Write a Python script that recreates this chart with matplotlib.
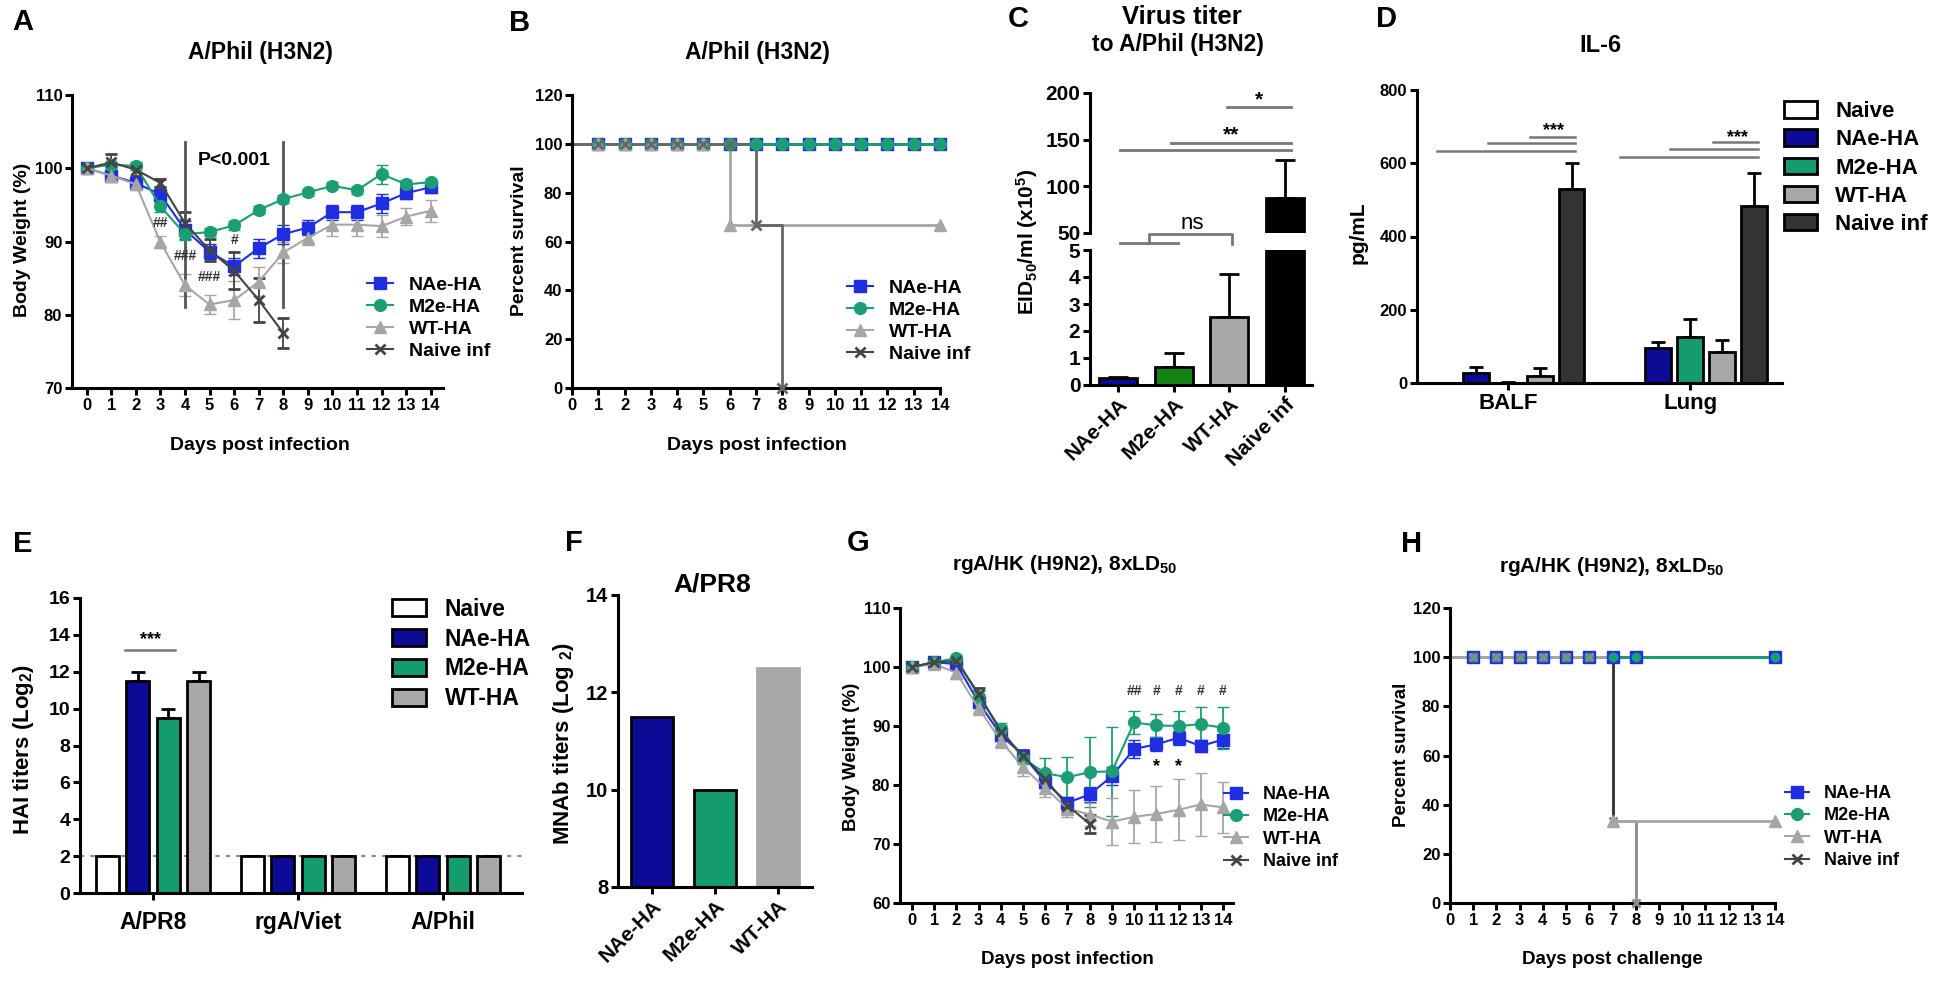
import matplotlib
matplotlib.use("Agg")
import matplotlib.pyplot as plt
from matplotlib.patches import Patch
from matplotlib.lines import Line2D

W, H = 1950, 994

plt.rcParams["font.family"] = ["Liberation Sans", "DejaVu Sans"]
plt.rcParams["font.weight"] = "bold"
plt.rcParams["mathtext.fontset"] = "custom"
plt.rcParams["mathtext.rm"] = "Liberation Sans:bold"
plt.rcParams["mathtext.it"] = "Liberation Sans:bold"
plt.rcParams["mathtext.bf"] = "Liberation Sans:bold"
plt.rcParams["mathtext.default"] = "rm"

# ---------------- data ----------------
DAYS = [0, 1, 2, 3, 4, 5, 6, 7, 8, 9, 10, 11, 12, 13, 14]
GROUPS = ["NAe-HA", "M2e-HA", "WT-HA", "Naive inf"]

# A: body weight, A/Phil (H3N2)
A_NAE = [100, 99.0, 98.0, 96.4, 91.6, 88.6, 86.6, 89.1, 91.0, 91.9, 94.0, 94.0, 95.2, 96.6, 97.4]
A_NAE_ERR = [0.4, 0.8, 0.8, 1.0, 1.2, 1.0, 1.2, 1.3, 1.3, 1.0, 1.0, 1.0, 1.3, 0.8, 0.8]
A_M2E = [100, 100.5, 100.3, 94.8, 91.0, 91.3, 92.2, 94.3, 95.8, 96.7, 97.6, 97.0, 99.2, 97.8, 98.1]
A_M2E_ERR = [0.3, 0.5, 0.5, 0.8, 0.8, 0.6, 0.6, 0.5, 0.5, 0.5, 0.5, 0.5, 1.3, 0.6, 0.5]
A_WT = [100, 99.0, 97.8, 89.9, 84.0, 81.4, 82.0, 84.5, 88.5, 90.5, 92.3, 92.3, 92.1, 93.4, 94.2]
A_WT_ERR = [0.3, 0.8, 0.8, 0.8, 1.5, 1.3, 2.6, 2.0, 1.5, 1.0, 1.5, 1.5, 1.5, 1.2, 1.5]
A_NAIVE = [100, 100.8, 99.8, 98.0, 92.5, 88.8, 86.0, 82.0, 77.5]
A_NAIVE_ERR = [0.3, 1.2, 0.8, 0.5, 1.5, 1.5, 2.5, 3.0, 2.1]

# B: survival, A/Phil (H3N2)
B_NAE_DAYS = [0, 1, 2, 3, 4, 5, 6, 7, 8, 9, 10, 11, 12, 13, 14]
B_NAE = [100, 100, 100, 100, 100, 100, 100, 100, 100, 100, 100, 100, 100, 100, 100]
B_M2E = [100, 100, 100, 100, 100, 100, 100, 100, 100, 100, 100, 100, 100, 100, 100]
B_WT_DAYS = [0, 1, 2, 3, 4, 5, 6, 14]
B_WT = [100, 100, 100, 100, 100, 100, 66.7, 66.7]
B_NAIVE_DAYS = [0, 1, 2, 3, 4, 5, 6, 7, 8]
B_NAIVE = [100, 100, 100, 100, 100, 100, 100, 66.7, 0]

# C: lung virus titer
C_TITER = [0.25, 0.65, 2.5, 87.5]
C_TITER_ERR = [0.05, 0.52, 1.6, 41.0]

# D: IL-6
D_SITES = ["BALF", "Lung"]
D_GROUPS = ["Naive", "NAe-HA", "M2e-HA", "WT-HA", "Naive inf"]
D_BALF = [0, 27, 1, 19, 530]
D_BALF_ERR = [0, 17, 3, 22, 70]
D_LUNG = [0, 95, 126, 85, 483]
D_LUNG_ERR = [0, 17, 49, 32, 90]

# E: HAI titers
E_STRAINS = ["A/PR8", "rgA/Viet", "A/Phil"]
E_GROUPS = ["Naive", "NAe-HA", "M2e-HA", "WT-HA"]
E_NAIVE = [2, 2, 2]
E_NAE = [11.5, 2, 2]
E_M2E = [9.5, 2, 2]
E_WT = [11.5, 2, 2]
E_NAE_ERR = [0.5, 0, 0]
E_M2E_ERR = [0.5, 0, 0]
E_WT_ERR = [0.5, 0, 0]
E_LIMIT = 2

# F: MNAb titers
F_GROUPS = ["NAe-HA", "M2e-HA", "WT-HA"]
F_TITER = [11.5, 10.0, 12.5]

# G: body weight, rgA/HK (H9N2)
G_NAE = [100, 100.8, 100.5, 94.0, 88.5, 85.0, 80.5, 77.0, 78.4, 81.5, 86.1, 86.9, 88.0, 86.6, 87.7]
G_NAE_ERR = [0.3, 0.5, 0.8, 1.0, 1.0, 1.0, 1.0, 1.0, 1.3, 1.5, 1.5, 1.2, 1.2, 1.0, 1.5]
G_M2E = [100, 100.8, 101.5, 95.0, 89.5, 84.5, 82.0, 81.3, 82.2, 82.3, 90.6, 90.1, 90.0, 90.3, 89.7]
G_M2E_ERR = [0.3, 0.5, 0.5, 1.0, 1.0, 1.0, 2.5, 3.5, 6.0, 7.5, 2.0, 2.0, 2.6, 3.0, 3.6]
G_WT = [100, 100.5, 99.0, 93.0, 87.5, 83.0, 79.5, 76.0, 75.0, 73.8, 74.6, 75.1, 75.8, 76.7, 76.2]
G_WT_ERR = [0.3, 0.5, 1.0, 1.2, 1.2, 1.5, 1.5, 1.5, 2.0, 4.0, 4.5, 4.8, 5.2, 5.4, 4.3]
G_NAIVE = [100, 100.8, 101.0, 95.5, 89.0, 85.0, 81.0, 76.5, 73.4]
G_NAIVE_ERR = [0.3, 0.5, 0.5, 1.0, 1.0, 1.0, 1.0, 1.0, 1.5]

# H: survival, rgA/HK (H9N2)
H_NAE_DAYS = [0, 1, 2, 3, 4, 5, 6, 7, 8, 14]
H_NAE = [100, 100, 100, 100, 100, 100, 100, 100, 100, 100]
H_M2E = [100, 100, 100, 100, 100, 100, 100, 100, 100, 100]
H_WT_DAYS = [0, 7, 14]
H_WT = [100, 33.3, 33.3]
H_NAIVE_DAYS = [0, 1, 2, 3, 4, 5, 6, 7, 8]
H_NAIVE = [100, 100, 100, 100, 100, 100, 100, 33.3, 0]

# ---------------- colours ----------------
L_BLUE = "#1f2ee0"
L_GREEN = "#1b9e73"
L_GREY = "#a6a6a6"
L_DARK = "#444444"
B_WHITE = "#ffffff"
B_NAVY = "#0b0b98"
B_GREEN = "#149c6c"
B_GREEN_C = "#128212"
B_GREY = "#a8a8a8"
B_DARK = "#333333"
SIG = "#777777"

fig = plt.figure(figsize=(W / 100, H / 100), dpi=100)


def px_axes(left, top, right, bottom):
    return fig.add_axes([left / W, 1 - bottom / H, (right - left) / W, (bottom - top) / H])


def prism(ax, size):
    for s in ["top", "right"]:
        ax.spines[s].set_visible(False)
    for s in ["left", "bottom"]:
        ax.spines[s].set_linewidth(2.2)
    ax.tick_params(width=2.2, length=5, labelsize=size, direction="out", pad=2)


def ftext(x, y, s, size, **kw):
    kw.setdefault("ha", "center")
    kw.setdefault("va", "center")
    fig.text(x / W, 1 - y / H, s, fontsize=size, fontweight="bold", **kw)


def legend_at(ax, handles, labels, x, y, size, **kw):
    ax.legend(handles, labels, loc="center left", bbox_to_anchor=(x / W, 1 - y / H),
              bbox_transform=fig.transFigure, frameon=False, fontsize=size,
              borderpad=0, borderaxespad=0, **kw)


LINE_STYLE = [(L_BLUE, "s", 8.5), (L_GREEN, "o", 8.5), (L_GREY, "^", 8), (L_DARK, "x", 7)]


def line_handles():
    return [Line2D([0], [0], color=c, marker=m, ms=ms, mew=2 if m == "x" else 1, lw=1.5)
            for c, m, ms in LINE_STYLE]


def weight_lines(ax, series):
    for (vals, errs), (c, m, ms) in zip(series, LINE_STYLE):
        ax.errorbar(DAYS[:len(vals)], vals, yerr=errs, color=c, marker=m, ms=ms,
                    mew=2 if m == "x" else 1, lw=1.5, elinewidth=1.3, capsize=4, capthick=1.3)


def survival_lines(ax, series):
    for (days, vals, c, m, ms) in series:
        ax.plot(days, vals, drawstyle="steps-post", color=c, lw=2, zorder=2)
        ax.plot(days[1:], vals[1:], ls="none", color=c, marker=m, ms=ms,
                mew=2 if m == "x" else 1, clip_on=False, zorder=3)


# ---------------- A ----------------
ax = px_axes(72, 95, 443, 388)
prism(ax, 12)
weight_lines(ax, [(A_NAE, A_NAE_ERR), (A_M2E, A_M2E_ERR), (A_WT, A_WT_ERR), (A_NAIVE, A_NAIVE_ERR)])
ax.plot([4, 4], [81.1, 103.6], color="#555555", lw=2)
ax.plot([8, 8], [81.1, 103.6], color="#555555", lw=2)
ax.text(6, 101.1, "P<0.001", ha="center", va="center", fontsize=14)
for x, y, s in [(3, 92.5, "##"), (4, 88.0, "###"), (5, 85.2, "###"), (6, 90.2, "#")]:
    ax.text(x, y, s, ha="center", va="center", fontsize=10, color="#333333")
ax.set_xlim(-0.6, 14.5)
ax.set_ylim(70, 110)
ax.set_xticks(DAYS)
ax.set_yticks([70, 80, 90, 100, 110])
legend_at(ax, line_handles(), GROUPS, 367, 318, 14, handlelength=1.35,
          handletextpad=0.8, labelspacing=0.22)
ftext(23, 22, "A", 21)
ftext(260, 52, "A/Phil (H3N2)", 16.5)
ftext(23, 240, "Body Weight (%)", 14, rotation=90)
ftext(260, 446, "Days post infection", 14)

# ---------------- B ----------------
ax = px_axes(572, 95, 940, 388)
prism(ax, 12)
survival_lines(ax, [
    (B_NAE_DAYS, B_NAE, L_BLUE, "s", 8.5),
    (B_NAE_DAYS, B_M2E, L_GREEN, "o", 8.5),
    (B_WT_DAYS, B_WT, L_GREY, "^", 8),
    (B_NAIVE_DAYS, B_NAIVE, "#666666", "x", 7),
])
ax.set_xlim(0, 14)
ax.set_ylim(0, 120)
ax.set_xticks(DAYS)
ax.set_yticks([0, 20, 40, 60, 80, 100, 120])
legend_at(ax, line_handles(), GROUPS, 847, 321, 14, handlelength=1.35,
          handletextpad=0.8, labelspacing=0.22)
ftext(520, 23, "B", 21)
ftext(757, 52, "A/Phil (H3N2)", 16.5)
ftext(520, 241, "Percent survival", 14, rotation=90)
ftext(757, 446, "Days post infection", 14)

# ---------------- C ----------------
c_colors = [B_NAVY, B_GREEN_C, B_GREY, "#000000"]
xs = range(len(GROUPS))
top = px_axes(1090, 93, 1312, 233)
low = px_axes(1090, 250, 1312, 385)
for a in (top, low):
    prism(a, 15)
    a.bar(xs, C_TITER, width=0.68, color=c_colors, edgecolor="black", lw=2, zorder=2)
    a.errorbar(xs, C_TITER, yerr=[[0] * len(C_TITER), C_TITER_ERR], ls="none",
               ecolor="black", elinewidth=2, capsize=7, capthick=2, zorder=1)
    a.set_xlim(-0.5, 3.48)
top.spines["bottom"].set_visible(False)
top.tick_params(axis="x", bottom=False, labelbottom=False)
top.set_ylim(50, 200)
top.set_yticks([50, 100, 150, 200])
low.set_ylim(0, 5)
low.set_yticks([0, 1, 2, 3, 4, 5])
low.set_xticks(list(xs))
low.set_xticklabels(GROUPS, rotation=45, ha="right", rotation_mode="anchor", fontsize=15)
# significance marks
for x0, x1, y in [(1.95, 3.1, 185), (0.96, 3.1, 146), (0.04, 3.1, 139)]:
    top.plot([x0, x1], [y, y], color=SIG, lw=2, clip_on=False)
top.text(2.53, 193, "*", ha="center", va="center", fontsize=15)
top.text(2.03, 155, "**", ha="center", va="center", fontsize=15)
top.plot([0.04, 1.07], [39.3, 39.3], color=SIG, lw=2, clip_on=False)
top.plot([0.55, 0.55, 2.04, 2.04], [39.3, 48.9, 48.9, 38.2], color=SIG, lw=2, clip_on=False)
top.text(1.34, 60.7, "ns", ha="center", va="center", fontsize=16, fontweight="normal")
ftext(1018, 19, "C", 21)
ftext(1182, 17, "Virus titer", 18.5)
ftext(1178, 45, "to A/Phil (H3N2)", 16.5)
ftext(1027, 242, "EID$_{50}$/ml (x10$^{5}$)", 15, rotation=90)

# ---------------- D ----------------
ax = px_axes(1417, 90, 1782, 383)
prism(ax, 12)
d_colors = [B_WHITE, B_NAVY, B_GREEN, B_GREY, B_DARK]
step = 0.175
for i, c in enumerate(d_colors):
    pos = [k + (i - 2) * step for k in range(len(D_SITES))]
    vals = [D_BALF[i], D_LUNG[i]]
    errs = [D_BALF_ERR[i], D_LUNG_ERR[i]]
    ax.bar(pos, vals, width=0.14, color=c, edgecolor="black", lw=2, zorder=2)
    ax.errorbar(pos, vals, yerr=[[0, 0], errs], ls="none", ecolor="black",
                elinewidth=2, capsize=5, capthick=2, zorder=1)
ax.set_xlim(-0.5, 1.505)
ax.set_ylim(0, 800)
ax.set_yticks([0, 200, 400, 600, 800])
ax.set_xticks(range(len(D_SITES)))
ax.set_xticklabels(D_SITES, fontsize=16)
for x0, x1, y in [(0.12, 0.37, 672), (-0.11, 0.37, 655), (-0.39, 0.37, 633),
                  (1.126, 1.374, 658), (0.89, 1.374, 639), (0.615, 1.374, 617)]:
    ax.plot([x0, x1], [y, y], color=SIG, lw=1.8)
ax.text(0.25, 690, "***", ha="center", va="center", fontsize=13)
ax.text(1.258, 671, "***", ha="center", va="center", fontsize=13)
legend_at(ax, [Patch(facecolor=c, edgecolor="black", lw=2) for c in d_colors], D_GROUPS,
          1784, 168, 16, handlelength=1.5, handleheight=0.75, handletextpad=0.8,
          labelspacing=0.32)
ftext(1386, 19, "D", 21)
ftext(1600, 46, "IL-6", 17)
ftext(1358, 233, "pg/mL", 15, rotation=90)

# ---------------- E ----------------
ax = px_axes(80, 598, 522, 893)
prism(ax, 14)
e_colors = [B_WHITE, B_NAVY, B_GREEN, B_GREY]
e_vals = [E_NAIVE, E_NAE, E_M2E, E_WT]
e_errs = [[0, 0, 0], E_NAE_ERR, E_M2E_ERR, E_WT_ERR]
ax.axhline(E_LIMIT, color="#888888", lw=1.5, ls=(0, (2, 3)), zorder=0)
for i, (c, v, e) in enumerate(zip(e_colors, e_vals, e_errs)):
    pos = [k + (i - 1.5) * 0.21 for k in range(len(E_STRAINS))]
    ax.bar(pos, v, width=0.16, color=c, edgecolor="black", lw=2, zorder=2)
    ax.errorbar(pos, v, yerr=[[0] * len(v), e], ls="none", ecolor="black",
                elinewidth=2, capsize=5, capthick=2, zorder=1)
ax.plot([-0.19, 0.15], [13.2, 13.2], color=SIG, lw=1.8)
ax.text(-0.02, 13.75, "***", ha="center", va="center", fontsize=13)
ax.set_xlim(-0.503, 2.545)
ax.set_ylim(0, 16)
ax.set_yticks(range(0, 17, 2))
ax.set_xticks(range(len(E_STRAINS)))
ax.set_xticklabels(E_STRAINS, fontsize=16.5)
ax.tick_params(axis="x", pad=8)
legend_at(ax, [Patch(facecolor=c, edgecolor="black", lw=2) for c in e_colors], E_GROUPS,
          392, 654, 16.5, handlelength=1.5, handleheight=0.75, handletextpad=0.8,
          labelspacing=0.3)
ftext(23, 544, "E", 21)
ftext(24, 750, "HAI titers (Log$_{2}$)", 16, rotation=90)

# ---------------- F ----------------
ax = px_axes(618, 595, 812, 887)
prism(ax, 14.5)
ax.bar(range(len(F_GROUPS)), F_TITER, width=0.68, color=[B_NAVY, B_GREEN, B_GREY],
       edgecolor=["black", "black", B_GREY], lw=2)
ax.set_xlim(-0.54, 2.54)
ax.set_ylim(8, 14)
ax.set_yticks([8, 10, 12, 14])
ax.set_xticks(range(len(F_GROUPS)))
ax.set_xticklabels(F_GROUPS, rotation=45, ha="right", rotation_mode="anchor", fontsize=15)
ftext(574, 543, "F", 21)
ftext(712, 585, "A/PR8", 19)
ftext(564, 743, "MNAb titers (Log $_{2}$)", 16, rotation=90)

# ---------------- G ----------------
ax = px_axes(900, 608, 1233, 903)
prism(ax, 12)
weight_lines(ax, [(G_NAE, G_NAE_ERR), (G_M2E, G_M2E_ERR), (G_WT, G_WT_ERR), (G_NAIVE, G_NAIVE_ERR)])
for x, s in [(10, "##"), (11, "#"), (12, "#"), (13, "#"), (14, "#")]:
    ax.text(x, 95.9, s, ha="center", va="center", fontsize=10, color="#333333")
for x in [11, 12]:
    ax.text(x, 83.2, "*", ha="center", va="center", fontsize=13)
ax.set_xlim(-0.54, 14.45)
ax.set_ylim(60, 110)
ax.set_xticks(DAYS)
ax.set_yticks([60, 70, 80, 90, 100, 110])
legend_at(ax, line_handles(), GROUPS, 1224, 828, 13, handlelength=1.35,
          handletextpad=0.8, labelspacing=0.3)
ftext(858, 543, "G", 21)
ftext(1065, 565, "rgA/HK (H9N2), 8xLD$_{50}$", 15)
ftext(852, 757, "Body Weight (%)", 13.5, rotation=90)
ftext(1067, 959, "Days post infection", 13.5)

# ---------------- H ----------------
ax = px_axes(1450, 608, 1775, 903)
prism(ax, 12)
survival_lines(ax, [
    (H_NAE_DAYS, H_NAE, L_BLUE, "s", 8.5),
    (H_NAE_DAYS, H_M2E, L_GREEN, "o", 6),
    (H_NAIVE_DAYS, H_NAIVE, "#8a8a8a", "x", 6),
    (H_WT_DAYS, H_WT, L_GREY, "^", 8),
])
ax.plot([7, 7], [33.3, 100], color="#333333", lw=2, zorder=2)
ax.set_xlim(0, 14)
ax.set_ylim(0, 120)
ax.set_xticks(DAYS)
ax.set_yticks([0, 20, 40, 60, 80, 100, 120])
legend_at(ax, line_handles(), GROUPS, 1785, 827, 13, handlelength=1.35,
          handletextpad=0.8, labelspacing=0.3)
ftext(1412, 544, "H", 21)
ftext(1612, 566, "rgA/HK (H9N2), 8xLD$_{50}$", 15)
ftext(1402, 755, "Percent survival", 13.5, rotation=90)
ftext(1612, 959, "Days post challenge", 13.5)

fig.savefig("out.png", dpi=100)
